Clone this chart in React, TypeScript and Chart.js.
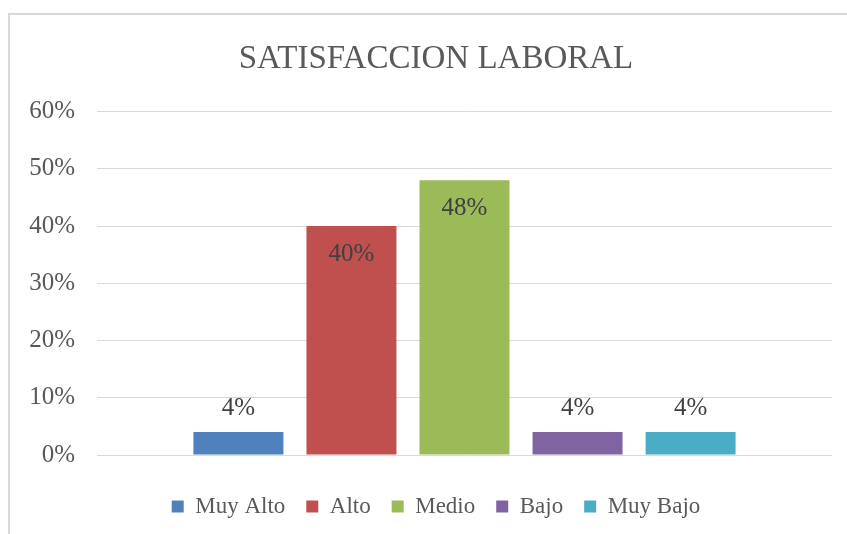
import React, { useEffect, useRef } from "react";
import { Chart, registerables } from "chart.js";

Chart.register(...registerables);

const categories = [""];
const seriesNames = ["Muy Alto", "Alto", "Medio", "Bajo", "Muy Bajo"];
const seriesValues = [0.04, 0.4, 0.48, 0.04, 0.04];
const seriesColors = ["#4F81BD", "#C0504D", "#9BBB59", "#8064A2", "#4BACC6"];
const yTicks = [0, 0.1, 0.2, 0.3, 0.4, 0.5, 0.6];
const titleText = "SATISFACCION LABORAL";

const FONT = '"Liberation Serif", "Times New Roman", serif';

const dataLabelPlugin = {
  id: "dataLabels",
  afterDatasetsDraw(chart: any) {
    const ctx = chart.ctx;
    ctx.save();
    ctx.font = `25px ${FONT}`;
    ctx.fillStyle = "#404040";
    ctx.textAlign = "center";
    ctx.textBaseline = "middle";
    chart.data.datasets.forEach((ds: any, i: number) => {
      const meta = chart.getDatasetMeta(i);
      meta.data.forEach((bar: any, j: number) => {
        const v = ds.data[j] as number;
        const inside = v >= 0.2;
        const y = inside ? bar.y + 28 : bar.y - 24;
        ctx.fillText(Math.round(v * 100) + "%", bar.x, y);
      });
    });
    ctx.restore();
  },
};

// let the y tick labels extend left of the (narrow) scale box without clipping
const widenYAxisPlugin = {
  id: "widenYAxis",
  afterLayout(chart: any) {
    const y = chart.scales.y;
    if (y) y.left = 0;
  },
};

export default function App() {
  const ref = useRef<HTMLCanvasElement>(null);
  useEffect(() => {
    if (!ref.current) return;
    const chart = new Chart(ref.current, {
      type: "bar",
      data: {
        labels: categories,
        datasets: seriesNames.map((name, i) => ({
          label: name,
          data: [seriesValues[i]],
          backgroundColor: seriesColors[i],
          borderWidth: 0,
          categoryPercentage: 0.769,
          barPercentage: 0.796,
        })),
      },
      options: {
        animation: false,
        responsive: false,
        devicePixelRatio: 1,
        layout: { padding: { left: 40, right: 15, top: 0, bottom: 6 } },
        plugins: {
          title: {
            display: true,
            text: titleText,
            color: "#595959",
            font: { family: FONT, size: 33, weight: "normal" },
            padding: { top: 40, bottom: 32 },
          },
          legend: {
            position: "bottom",
            labels: {
              boxWidth: 12,
              boxHeight: 12,
              padding: 21,
              color: "#595959",
              font: { family: FONT, size: 23 },
            },
          },
          tooltip: { enabled: false },
        },
        scales: {
          x: {
            grid: { display: false },
            border: { display: false },
            ticks: { display: false },
            afterFit: (s: any) => {
              s.height = 19;
            },
          },
          y: {
            min: 0,
            max: 0.6,
            afterBuildTicks: (s: any) => {
              s.ticks = yTicks.map((v) => ({ value: v }));
            },
            ticks: {
              padding: 22,
              color: "#595959",
              font: { family: FONT, size: 25 },
              callback: (v: any) => Math.round(Number(v) * 100) + "%",
            },
            grid: { color: "#d9d9d9", lineWidth: 1, drawTicks: false },
            border: { display: false },
            afterFit: (s: any) => {
              s.width = 57;
            },
          },
        },
      },
      plugins: [dataLabelPlugin, widenYAxisPlugin],
    });
    return () => chart.destroy();
  }, []);

  return (
    <div
      style={{
        position: "fixed",
        left: 0,
        top: 0,
        width: 847,
        height: 534,
        overflow: "hidden",
        background: "#fff",
      }}
    >
      <div
        style={{
          position: "absolute",
          left: 8,
          top: 13,
          width: 900,
          height: 600,
          border: "2px solid #d9d9d9",
          boxSizing: "border-box",
        }}
      />
      <canvas
        ref={ref}
        width={847}
        height={534}
        style={{ position: "absolute", left: 0, top: 0, width: 847, height: 534 }}
      />
    </div>
  );
}
